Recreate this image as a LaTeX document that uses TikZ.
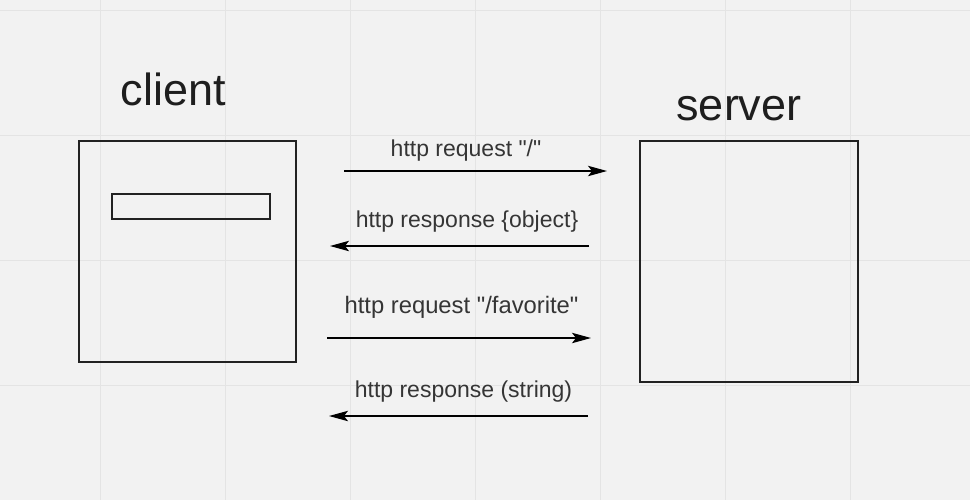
\documentclass[tikz,border=0pt]{standalone}
\usepackage{fontspec}
\setmainfont{Liberation Sans}
\usepackage{tikz}
\usetikzlibrary{
    arrows.meta,
    positioning
}
\usepackage{xcolor}
\definecolor{canvasgray}{RGB}{242,242,242}
\definecolor{gridgray}{RGB}{228,228,228}
\definecolor{boxline}{RGB}{34,34,34}
\definecolor{textdark}{RGB}{30,30,30}

\tikzset{
    box/.style={draw=boxline, line width=1pt, inner sep=0pt},
    msg/.style={draw=black, line width=0.6pt,
        -{Stealth[length=9.5pt, width=5.2pt, inset=2pt]}},
    title/.style={anchor=base, text=textdark, font=\fontsize{22.5}{26}\selectfont},
    lbl/.style={anchor=base, text=textdark!90, font=\fontsize{11.5}{14}\selectfont}
}

\begin{document}
\begin{tikzpicture}[x=0.5pt, y=-0.5pt]

% === Canvas ===
\fill[canvasgray] (0,0) rectangle (970,500);
\useasboundingbox (0,0) rectangle (970,500);
\foreach \x in {100,225,...,850} {\draw[gridgray, line width=0.5pt] (\x,0) -- (\x,500);}
\foreach \y in {10,135,260,385} {\draw[gridgray, line width=0.5pt] (0,\y) -- (970,\y);}

% === LEFT: client ===
\node[box, minimum width=108.5pt, minimum height=110.5pt] (client) at (187.2,251.7) {};
\node[box, minimum width=78.8pt, minimum height=12.3pt] (field) at (191.2,206.3) {};
\node[title] (clienttitle) at (173.5,105) {client};

% === RIGHT: server ===
\node[box, minimum width=108.9pt, minimum height=120.3pt] (server) at (749.1,261.3) {};
\node[title] (servertitle) at (739,120) {server};

% === Messages ===
\coordinate (reqa) at (344,171);
\coordinate (reqb) at (607,171);
\draw[msg] (reqa) -- (reqb);
\node[lbl] (reqtext) at (466,156) {http request \textquotedbl/\textquotedbl};

\coordinate (resa) at (589,246);
\coordinate (resb) at (330,246);
\draw[msg] (resa) -- (resb);
\node[lbl] (restext) at (467,227) {http response \{object\}};

\coordinate (favreqa) at (327,338);
\coordinate (favreqb) at (591,338);
\draw[msg] (favreqa) -- (favreqb);
\node[lbl, font=\fontsize{11.9}{14}\selectfont] (favreqtext) at (461.5,313) {http request \textquotedbl/favorite\textquotedbl};

\coordinate (favresa) at (588,416);
\coordinate (favresb) at (329,416);
\draw[msg] (favresa) -- (favresb);
\node[lbl] (favrestext) at (463.5,397) {http response (string)};

\end{tikzpicture}
\end{document}
